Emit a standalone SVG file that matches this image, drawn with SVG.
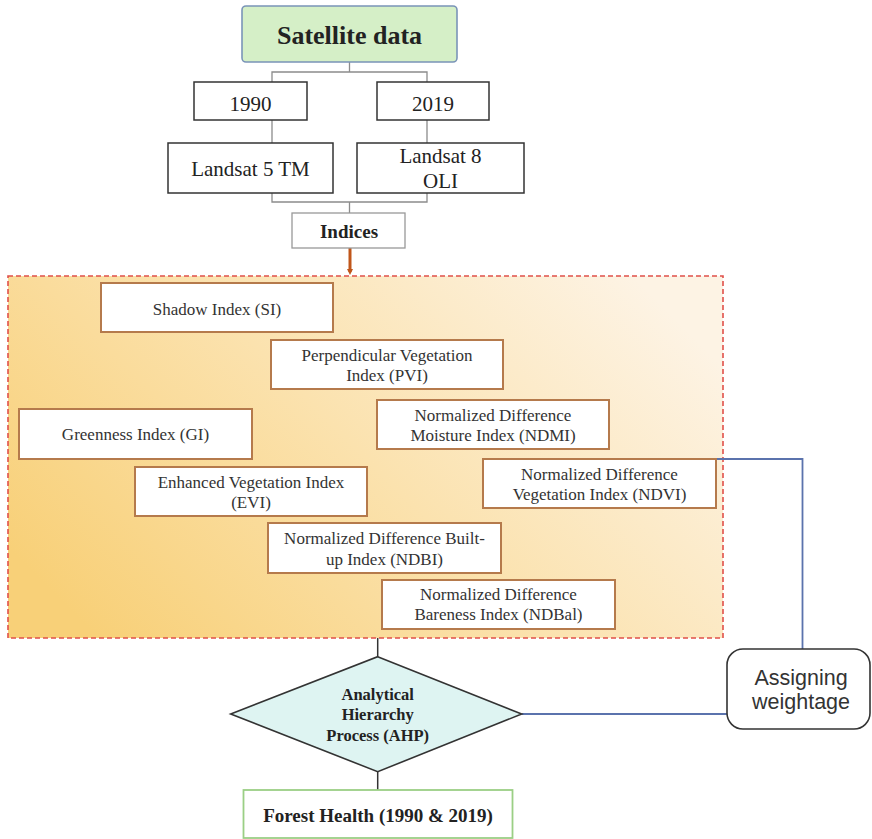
<svg xmlns="http://www.w3.org/2000/svg" width="872" height="839" viewBox="0 0 872 839">
<defs>
<linearGradient id="bg" x1="0" y1="0.75" x2="1" y2="0.25">
<stop offset="0" stop-color="#f8d078"/>
<stop offset="0.5" stop-color="#fbe2ae"/>
<stop offset="1" stop-color="#fdf3e4"/>
</linearGradient>
<marker id="ah" markerWidth="6" markerHeight="6" refX="3" refY="3" orient="auto" markerUnits="userSpaceOnUse">
<path d="M0,0 L6,3 L0,6 Z" fill="#c0561a"/>
</marker>
<style>
.top{fill:#fff;stroke:#333;stroke-width:1.5}
.idx{fill:#fff;stroke:#b57a4c;stroke-width:2}
.it{font-family:"Liberation Serif","Times New Roman",serif;font-size:17px;fill:#333;text-anchor:middle}
.st{font-family:"Liberation Serif","Times New Roman",serif;font-size:21px;fill:#222;text-anchor:middle}
.gray{fill:none;stroke:#8c8c8c;stroke-width:1.3}
.dark{fill:none;stroke:#333;stroke-width:1.5}
.blue{fill:none;stroke:#5b73ad;stroke-width:1.8}
</style>
</defs>
<rect x="8" y="276" width="715" height="362" fill="url(#bg)" stroke="#e0504a" stroke-width="1.6" stroke-dasharray="5,3"/>
<g id="connectors">
<path class="gray" d="M349.5,62 V72 M272,82 V72 H427 V82"/>
<path class="gray" d="M272,120 V143 M427,120 V143"/>
<path class="gray" d="M272,193 V202 H427 V193 M349.5,202 V213"/>
<line x1="350" y1="248" x2="350" y2="272" stroke="#c0561a" stroke-width="3" marker-end="url(#ah)"/>
<path class="dark" d="M377.7,638 V656.7 M377.7,771.7 V790"/>
<path class="blue" d="M716,459 H802.5 V649 M521.7,714 H727"/>
</g>
<g id="satellite">
<rect x="242" y="6" width="215" height="56" rx="4" fill="#d5efc7" stroke="#7a94b8" stroke-width="1.6"/>
<text x="349.5" y="43.5" font-family="Liberation Serif,serif" font-weight="bold" font-size="26" fill="#222" text-anchor="middle">Satellite data</text>
</g>
<g id="y1990">
<rect class="top" x="194" y="82" width="113" height="38"/>
<text class="st" x="250.5" y="111">1990</text>
</g>
<g id="y2019">
<rect class="top" x="377" y="82" width="112" height="38"/>
<text class="st" x="433" y="111">2019</text>
</g>
<g id="landsat5">
<rect class="top" x="168" y="143" width="165" height="50"/>
<text class="st" x="250.5" y="176">Landsat 5 TM</text>
</g>
<g id="landsat8">
<rect class="top" x="357" y="143" width="167" height="50"/>
<text class="st" x="440.5" y="163">Landsat 8</text>
<text class="st" x="440.5" y="188">OLI</text>
</g>
<g id="indices">
<rect x="292" y="213" width="113" height="35" fill="#fff" stroke="#999" stroke-width="1.3"/>
<text x="349" y="237.5" font-family="Liberation Serif,serif" font-weight="bold" font-size="19" fill="#222" text-anchor="middle">Indices</text>
</g>
<g id="si">
<rect class="idx" x="101" y="283" width="232" height="49"/>
<text class="it" x="217" y="315">Shadow Index (SI)</text>
</g>
<g id="pvi">
<rect class="idx" x="271" y="340" width="232" height="49"/>
<text class="it" x="387" y="360.5">Perpendicular Vegetation</text>
<text class="it" x="387" y="381">Index (PVI)</text>
</g>
<g id="gi">
<rect class="idx" x="19" y="409" width="233" height="50"/>
<text class="it" x="135.5" y="440">Greenness Index (GI)</text>
</g>
<g id="ndmi">
<rect class="idx" x="377" y="400" width="232" height="49"/>
<text class="it" x="493" y="420.5">Normalized Difference</text>
<text class="it" x="493" y="441">Moisture Index (NDMI)</text>
</g>
<g id="evi">
<rect class="idx" x="135" y="467" width="232" height="49"/>
<text class="it" x="251" y="487.5">Enhanced Vegetation Index</text>
<text class="it" x="251" y="507.5">(EVI)</text>
</g>
<g id="ndvi">
<rect class="idx" x="483" y="459" width="233" height="49"/>
<text class="it" x="599.5" y="480">Normalized Difference</text>
<text class="it" x="599.5" y="500">Vegetation Index (NDVI)</text>
</g>
<g id="ndbi">
<rect class="idx" x="268" y="523" width="233" height="50"/>
<text class="it" x="384.5" y="543.5">Normalized Difference Built-</text>
<text class="it" x="384.5" y="564.5">up Index (NDBI)</text>
</g>
<g id="ndbai">
<rect class="idx" x="382" y="580" width="233" height="49"/>
<text class="it" x="498.5" y="600">Normalized Difference</text>
<text class="it" x="498.5" y="620">Bareness Index (NDBal)</text>
</g>
<g id="ahp">
<polygon points="377.7,656.7 521.7,714 377.7,771.7 230.7,714" fill="#def4f2" stroke="#333" stroke-width="1.6"/>
<g font-family="Liberation Serif,serif" font-weight="bold" font-size="16.5" fill="#222" text-anchor="middle">
<text x="377.7" y="700">Analytical</text>
<text x="377.7" y="720">Hierarchy</text>
<text x="377.7" y="740.5">Process (AHP)</text>
</g>
</g>
<g id="weightage">
<rect x="727" y="649" width="143" height="80" rx="16" fill="#fff" stroke="#333" stroke-width="1.6"/>
<g font-family="Liberation Sans,Arial,sans-serif" font-size="21.5" fill="#333" text-anchor="middle">
<text x="801" y="685">Assigning</text>
<text x="801" y="708.5">weightage</text>
</g>
</g>
<g id="forest">
<rect x="243.5" y="790" width="269" height="48" fill="#fff" stroke="#9bcf85" stroke-width="1.8"/>
<text x="378" y="821.5" font-family="Liberation Serif,serif" font-weight="bold" font-size="19" fill="#222" text-anchor="middle">Forest Health (1990 &amp; 2019)</text>
</g>
</svg>
